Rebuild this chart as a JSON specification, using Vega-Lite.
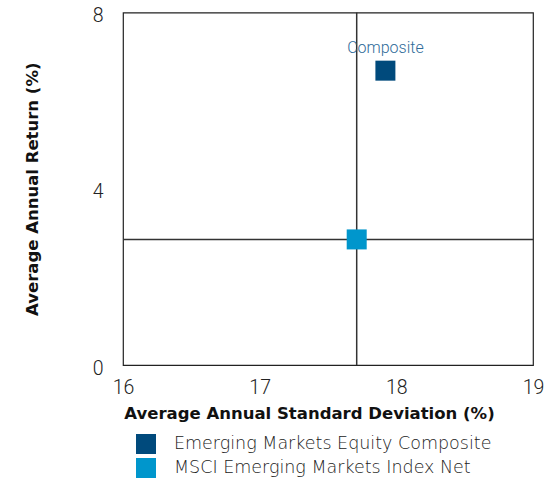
{
  "$schema": "https://vega.github.io/schema/vega-lite/v6.json",
  "width": 410,
  "height": 352.5,
  "autosize": {"type": "none"},
  "padding": {"left": 123, "top": 12.5, "right": 14, "bottom": 122},
  "background": "white",
  "config": {
    "view": {"stroke": "#222222", "strokeWidth": 1.2},
    "font": "Liberation Sans",
    "axis": {
      "grid": false, "ticks": false, "domain": false,
      "labelFont": "Roboto", "labelFontWeight": 300, "labelFontSize": 19.5, "labelColor": "#222222",
      "titleFont": "DejaVu Sans", "titleFontWeight": "bold", "titleFontSize": 16.5, "titleColor": "#111111"
    }
  },
  "data": {
    "values": [
      {"series": "Emerging Markets Equity Composite", "sd": 17.92, "ret": 6.68, "label": "Composite"},
      {"series": "MSCI Emerging Markets Index Net", "sd": 17.71, "ret": 2.85, "label": ""}
    ]
  },
  "layer": [
    {
      "transform": [{"filter": "datum.label === ''"}],
      "mark": {"type": "rule", "color": "#333333", "strokeWidth": 1.5},
      "encoding": {"x": {"field": "sd", "type": "quantitative"}}
    },
    {
      "transform": [{"filter": "datum.label === ''"}],
      "mark": {"type": "rule", "color": "#333333", "strokeWidth": 1.5},
      "encoding": {"y": {"field": "ret", "type": "quantitative"}}
    },
    {
      "mark": {"type": "point", "shape": "square", "filled": true, "size": 400, "opacity": 1},
      "encoding": {
        "x": {
          "field": "sd", "type": "quantitative",
          "scale": {"domain": [16, 19], "nice": false, "zero": false},
          "axis": {"values": [16, 17, 18, 19], "format": "d", "labelFlush": false, "labelPadding": 13, "titlePadding": 9, "titleX": 186},
          "title": "Average Annual Standard Deviation (%)"
        },
        "y": {
          "field": "ret", "type": "quantitative",
          "scale": {"domain": [0, 8], "nice": false},
          "axis": {"values": [0, 4, 8], "format": "d", "labelFlush": false, "labelOffset": 3, "labelPadding": 20, "titlePadding": 52},
          "title": "Average Annual Return (%)"
        },
        "color": {
          "field": "series", "type": "nominal",
          "scale": {"domain": ["Emerging Markets Equity Composite", "MSCI Emerging Markets Index Net"], "range": ["#004a7c", "#0096cc"]},
          "legend": {
            "orient": "none", "legendX": 13, "legendY": 421.5, "title": null,
            "symbolType": "square", "symbolSize": 400, "symbolStrokeWidth": 0, "symbolOpacity": 1,
            "labelFont": "DejaVu Sans", "labelFontWeight": 200, "labelFontSize": 17.5, "labelColor": "#222222",
            "labelOffset": 18, "rowPadding": 4, "padding": 0, "labelLimit": 400
          }
        }
      }
    },
    {
      "transform": [{"filter": "datum.label !== ''"}],
      "mark": {"type": "text", "dy": -23, "font": "Roboto", "fontWeight": 300, "fontSize": 16, "color": "#2f6b99"},
      "encoding": {
        "x": {"field": "sd", "type": "quantitative"},
        "y": {"field": "ret", "type": "quantitative"},
        "text": {"field": "label"}
      }
    }
  ]
}
